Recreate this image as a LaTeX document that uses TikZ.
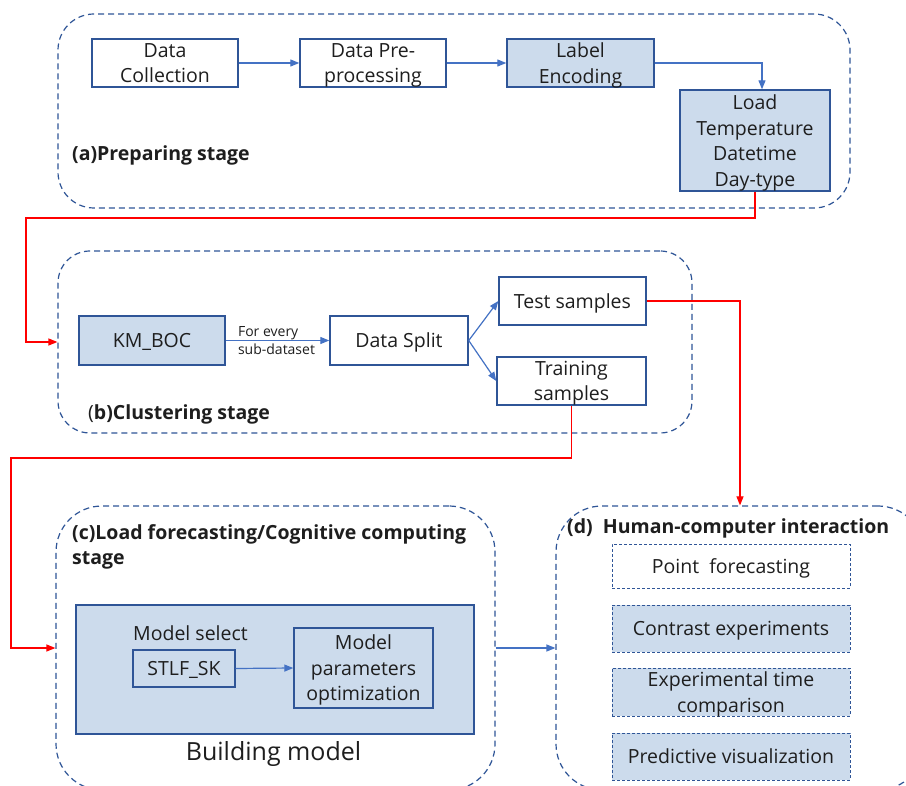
\documentclass[tikz,border=0pt]{standalone}
\usepackage{fontspec}
\setmainfont{Open Sans}
\usetikzlibrary{arrows.meta}
\definecolor{edgeblue}{RGB}{47,85,151}
\definecolor{arrowblue}{RGB}{68,114,196}
\definecolor{paleblue}{RGB}{204,219,236}
\definecolor{txt}{RGB}{30,30,30}
\tikzset{
  stage/.style={draw=edgeblue, line width=1.2pt, dash pattern=on 6pt off 4pt, inner sep=0pt},
  plainbox/.style={draw=edgeblue, line width=1.4pt, fill=white, inner sep=0pt, align=center,
    text=txt, text depth=0pt, font=\fontsize{19.5}{25.5}\selectfont},
  bluebox/.style={plainbox, fill=paleblue},
  dashbox/.style={plainbox, line width=1pt, dash pattern=on 3pt off 2pt},
  flow/.style={draw=arrowblue, line width=1.2pt, -{Triangle[length=9pt,width=7pt]}},
  redflow/.style={draw=red, line width=1.2pt, -{Triangle[length=9pt,width=7pt]}},
  stagelabel/.style={anchor=west, inner sep=0pt, text=txt, font=\bfseries\fontsize{19.5}{25}\selectfont, align=left},
}
\begin{document}
\begin{tikzpicture}[x=1pt,y=-1pt]
\useasboundingbox (0,0) rectangle (906,786);
\clip (0,0) rectangle (906,786);
\fill[white] (0,0) rectangle (906,786);

% stage containers
\node[stage, rounded corners=36pt, minimum width=792pt, minimum height=194pt] (A) at (454,111) {};
\node[stage, rounded corners=32pt, minimum width=634pt, minimum height=182pt] (B) at (375,342) {};
\node[stage, rounded corners=46pt, minimum width=439pt, minimum height=284pt] (C) at (275.5,648) {};
\node[stage, rounded corners=46pt, minimum width=368pt, minimum height=284pt] (D) at (740,648) {};

% (a) preparing stage
\node[plainbox, minimum width=146pt, minimum height=48pt] (dc) at (165,63) {Data\\Collection};
\node[plainbox, minimum width=146pt, minimum height=48pt] (dp) at (373,63) {Data Pre-\\processing};
\node[bluebox, minimum width=147pt, minimum height=48pt] (le) at (580.5,63) {Label\\Encoding};
\node[bluebox, minimum width=150pt, minimum height=101pt] (ld) at (755,140.5) {Load\\Temperature\\Datetime\\Day-type};
\node[stagelabel] (la) at (72,155) {(a)Preparing stage};

\draw[flow] (dc.east) -- (dp.west);
\draw[flow] (dp.east) -- (le.west);
\draw[flow] (le.east) -| ([xshift=7pt]ld.north);

% (b) clustering stage
\node[bluebox, minimum width=146pt, minimum height=49pt] (km) at (152,340.5) {KM\_BOC};
\node[plainbox, minimum width=138pt, minimum height=49pt] (ds) at (399,340.5) {Data Split};
\node[plainbox, minimum width=147pt, minimum height=48pt] (ts) at (572.5,301) {Test samples};
\node[plainbox, minimum width=149pt, minimum height=48pt] (tr) at (571.5,381) {Training\\samples};
\node[stagelabel] (lb) at (88,414) {{\mdseries(}b)Clustering stage};

\draw[flow] (km.east) -- (ds.west)
  node[midway, xshift=-1pt, inner sep=0pt, align=left, text=txt, font=\fontsize{14}{18}\selectfont] {For every\\sub-dataset};
\draw[flow] (ds.east) -- (ts.west);
\draw[flow] (ds.east) -- (tr.west);

% (c) load forecasting stage
\node[stagelabel] (lc) at (72,546.5) {(c)Load forecasting/Cognitive computing\\stage};
\node[bluebox, minimum width=398pt, minimum height=129pt] (bm) at (275,669.5) {};
\node[anchor=west, inner sep=0pt, text=txt, font=\fontsize{19.5}{25}\selectfont] (ms) at (133,633) {Model select};
\node[bluebox, minimum width=102pt, minimum height=37pt] (stlf) at (184,668.5) {STLF\_SK};
\node[bluebox, minimum width=139pt, minimum height=80pt] (mpo) at (363.5,668) {Model\\parameters\\optimization};
\node[inner sep=0pt, text=txt, font=\fontsize{25}{30}\selectfont] (bml) at (273.5,754) {Building model};
\draw[flow] (stlf.east) -- (mpo.west);

% (d) human-computer interaction
\node[stagelabel] (ldd) at (567,528) {(d)\ \ Human-computer interaction};
\node[dashbox, minimum width=238pt, minimum height=44pt] (pf) at (731,566) {Point\ \ forecasting};
\node[dashbox, fill=paleblue, minimum width=238pt, minimum height=47pt] (ce) at (731,628.5) {Contrast experiments};
\node[dashbox, fill=paleblue, minimum width=238pt, minimum height=48pt] (et) at (731,692) {Experimental time\\comparison};
\node[dashbox, fill=paleblue, minimum width=238pt, minimum height=47pt] (pv) at (731,756.5) {Predictive visualization};

% links between stages
\coordinate (ra1) at (755,218);
\coordinate (ra2) at (26,218);
\draw[redflow] (ld.south) -- (ra1) -- (ra2) |- (B.west);
\draw[redflow] (ts.east) -| (D.north);
\coordinate (rc1) at (571.5,458);
\coordinate (rc2) at (11,458);
\draw[redflow] (tr.south) -- (rc1) -- (rc2) |- (C.west);
\draw[flow] (C.east) -- (D.west);
\end{tikzpicture}
\end{document}
